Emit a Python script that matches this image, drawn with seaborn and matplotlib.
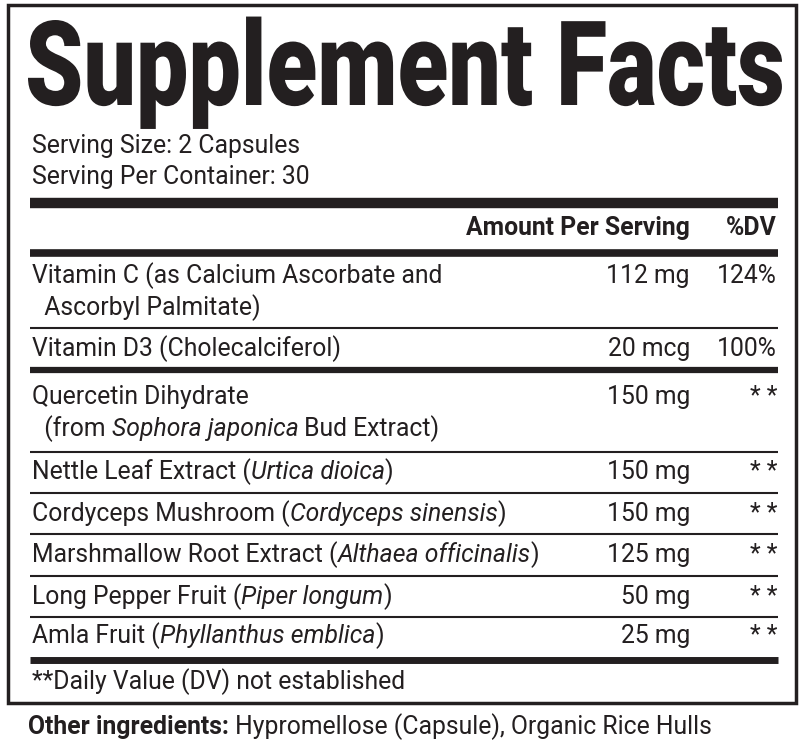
import matplotlib
matplotlib.use("Agg")
import matplotlib.pyplot as plt
import seaborn as sns
from matplotlib.textpath import TextPath
from matplotlib.font_manager import FontProperties
from matplotlib.patches import PathPatch
from matplotlib.transforms import Affine2D

sns.set_theme(style="white")
plt.rcParams['font.family'] = ['Roboto', 'DejaVu Sans']

title = "Supplement Facts"
serving = ["Serving Size: 2 Capsules", "Serving Per Container: 30"]
header = ["Amount Per Serving", "%DV"]
names = [
    [[("Vitamin C (as Calcium Ascorbate and", False)], [("  Ascorbyl Palmitate)", False)]],
    [[("Vitamin D3 (Cholecalciferol)", False)]],
    [[("Quercetin Dihydrate", False)], [("  (from ", False), ("Sophora japonica", True), (" Bud Extract)", False)]],
    [[("Nettle Leaf Extract (", False), ("Urtica dioica", True), (")", False)]],
    [[("Cordyceps Mushroom (", False), ("Cordyceps sinensis", True), (")", False)]],
    [[("Marshmallow Root Extract (", False), ("Althaea officinalis", True), (")", False)]],
    [[("Long Pepper Fruit (", False), ("Piper longum", True), (")", False)]],
    [[("Amla Fruit (", False), ("Phyllanthus emblica", True), (")", False)]],
]
amounts = ["112 mg", "20 mcg", "150 mg", "150 mg", "150 mg", "125 mg", "50 mg", "25 mg"]
dvs = ["124%", "100%", "* *", "* *", "* *", "* *", "* *", "* *"]
footnote = "**Daily Value (DV) not established"
other_label = "Other ingredients:"
other_text = " Hypromellose (Capsule), Organic Rice Hulls"

W, H = 806, 745
fig = plt.figure(figsize=(W / 100, H / 100), dpi=100)
ax = fig.add_axes([0, 0, 1, 1])
ax.set_xlim(0, W); ax.set_ylim(H, 0); ax.axis("off")
fig.patch.set_facecolor("white")
r = fig.canvas.get_renderer()
FS = 17.8
C = "#231f20"

def seg_text(x, y, segs, fs=FS):
    for t, it in segs:
        tx = ax.text(x, y, t, fontsize=fs, style="italic" if it else "normal",
                     va="center", ha="left", color=C)
        x += tx.get_window_extent(r).width

def hline(y, lw):
    ax.plot([30, 778], [y, y], color=C, lw=lw, solid_capstyle="butt")

ax.add_patch(plt.Rectangle((8, 5), 788, 698, fill=False, ec=C, lw=2.5))

# condensed bold title via scaled text path
tp = TextPath((0, 0), title, size=100, prop=FontProperties(family="Roboto", weight="black"))
ext = tp.get_extents()
capS = TextPath((0, 0), "S", size=100, prop=FontProperties(family="Roboto", weight="black")).get_extents()
sx = 754 / ext.width
sy = 85 / capS.ymax
tr = Affine2D().scale(sx, -sy).translate(28 - ext.xmin * sx, 105)
ax.add_patch(PathPatch(tr.transform_path(tp), fc=C, ec="none"))

ax.text(32, 146, serving[0], fontsize=FS, va="center", color=C)
ax.text(32, 177, serving[1], fontsize=FS, va="center", color=C)
hline(203, 7.5)
ax.text(690, 228, header[0], fontsize=FS, fontweight="bold", ha="right", va="center", color=C)
ax.text(777, 228, header[1], fontsize=FS, fontweight="bold", ha="right", va="center", color=C)
hline(253, 5.5)

row_tops = [276, 349, 397, 472, 514, 555, 597, 636]
seps = [(328, 1.5), (370, 4.5), (452, 1.5), (493, 1.5), (534, 1.5), (576, 1.5), (617, 1.5), (660, 5)]
for i, lines in enumerate(names):
    for j, segs in enumerate(lines):
        seg_text(32, row_tops[i] + j * 32, segs)
    ax.text(690, row_tops[i], amounts[i], fontsize=FS, ha="right", va="center", color=C)
    ax.text(777, row_tops[i], dvs[i], fontsize=FS, ha="right", va="center", color=C)
for y, lw in seps:
    hline(y, lw)
ax.text(32, 682, footnote, fontsize=FS, va="center", color=C)
t = ax.text(28, 727, other_label, fontsize=FS, fontweight="bold", va="center", color=C)
ax.text(28 + t.get_window_extent(r).width, 727, other_text, fontsize=FS, va="center", color=C)
fig.savefig("out.png", dpi=100, facecolor="white")
